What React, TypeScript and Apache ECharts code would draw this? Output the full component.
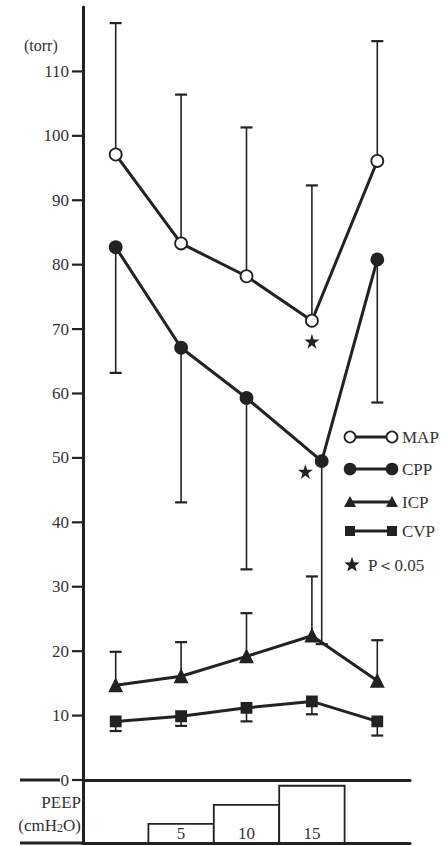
import React, { useEffect, useRef } from 'react';
import * as echarts from 'echarts';

// ---- data ----
const xPos = [1, 2, 3, 4, 5];
const cppX = [1, 2, 3, 4.15, 5];
const mapMean = [97.1, 83.3, 78.2, 71.3, 96.1];
const mapUpper = [117.5, 106.4, 101.3, 92.3, 114.7];
const cppMean = [82.7, 67.1, 59.3, 49.5, 80.8];
const cppLower = [63.2, 43.1, 32.7, 21.1, 58.6];
const icpMean = [14.7, 16.1, 19.2, 22.4, 15.4];
const icpUpper = [19.9, 21.4, 25.9, 31.6, 21.7];
const cvpMean = [9.1, 9.9, 11.2, 12.2, 9.1];
const cvpLower = [7.6, 8.4, 9.1, 10.2, 6.9];
const starPoints = [
  [4, 68.1],
  [3.9, 47.9],
];
const yTicks = [0, 10, 20, 30, 40, 50, 60, 70, 80, 90, 100, 110];
const peepX = [2, 3, 4];
const peepValues = [5, 10, 15];
const legendNames = ['MAP', 'CPP', 'ICP', 'CVP'];
const sigLabel = 'P＜0.05';

const INK = '#222';
const TXT = '#333';
const FAMILY = "'Liberation Serif', serif";
const STAR = 'path://M50,0 L61,35 L98,35 L68,57 L79,91 L50,70 L21,91 L32,57 L2,35 L39,35 Z';

// layout
const W = 448;
const H = 846;
const G_LEFT = 83;
const G_RIGHT = 38;
const G_TOP = 7;
const G_BOTTOM = 66;
const P_BOTTOM = 3;
const AXIS_Y0 = H - G_BOTTOM;
const PANEL_Y0 = H - P_BOTTOM;

function starPolygon(cx: number, cy: number, r: number) {
  const pts: number[][] = [];
  for (let i = 0; i < 10; i++) {
    const rr = i % 2 === 0 ? r : r * 0.42;
    const a = -Math.PI / 2 + (i * Math.PI) / 5;
    pts.push([cx + rr * Math.cos(a), cy + rr * Math.sin(a)]);
  }
  return pts;
}

function txt(text: string, x: number, y: number, size: number, align = 'left') {
  return {
    type: 'text',
    style: { text, x, y, align, verticalAlign: 'middle', fontFamily: FAMILY, fontSize: size, fill: TXT },
  };
}

function errorBars(name: string, xs: number[], means: number[], ends: number[]) {
  return {
    type: 'custom',
    name,
    z: 1,
    silent: true,
    xAxisIndex: 0,
    yAxisIndex: 0,
    data: xs.map((x, i) => [x, means[i], ends[i]]),
    encode: { x: 0, y: [1, 2] },
    renderItem: (params: any, api: any) => {
      const x = api.value(0);
      const m = api.value(1);
      const e = api.value(2);
      const p1 = api.coord([x, m]);
      const p2 = api.coord([x, e]);
      return {
        type: 'group',
        children: [
          { type: 'line', shape: { x1: p1[0], y1: p1[1], x2: p2[0], y2: p2[1] }, style: { stroke: INK, lineWidth: 1.6 } },
          { type: 'line', shape: { x1: p2[0] - 6, y1: p2[1], x2: p2[0] + 6, y2: p2[1] }, style: { stroke: INK, lineWidth: 2.2 } },
        ],
      };
    },
  };
}

function lineSeries(name: string, xs: number[], ys: number[], symbol: string, size: number, fill: string) {
  return {
    type: 'line',
    name,
    z: 3,
    xAxisIndex: 0,
    yAxisIndex: 0,
    data: xs.map((x, i) => [x, ys[i]]),
    symbol,
    symbolSize: size,
    showAllSymbol: true,
    itemStyle: { color: fill, borderColor: INK, borderWidth: 1.8, opacity: 1 },
    lineStyle: { color: INK, width: 3 },
    silent: true,
  };
}

export default function App() {
  const ref = useRef<HTMLDivElement>(null);
  useEffect(() => {
    if (!ref.current) return;
    const chart = echarts.init(ref.current, undefined, { renderer: 'svg' });

    const lx = 350;
    const ly = 437;
    const rowGap = [0, 32, 65, 94, 128];
    const markers: any[] = [
      (cx: number, cy: number) => ({ type: 'circle', shape: { cx, cy, r: 5.5 }, style: { fill: '#fff', stroke: INK, lineWidth: 1.8 } }),
      (cx: number, cy: number) => ({ type: 'circle', shape: { cx, cy, r: 5.5 }, style: { fill: INK, stroke: INK, lineWidth: 1.5 } }),
      (cx: number, cy: number) => ({ type: 'polygon', shape: { points: [[cx - 6, cy + 5], [cx + 6, cy + 5], [cx, cy - 6]] }, style: { fill: INK } }),
      (cx: number, cy: number) => ({ type: 'rect', shape: { x: cx - 5, y: cy - 5, width: 10, height: 10 }, style: { fill: INK } }),
    ];
    const legendEls: any[] = [];
    legendNames.forEach((n, i) => {
      const y = ly + rowGap[i];
      legendEls.push({ type: 'line', shape: { x1: lx, y1: y, x2: lx + 42, y2: y }, style: { stroke: INK, lineWidth: 3 } });
      legendEls.push(markers[i](lx, y));
      legendEls.push(markers[i](lx + 42, y));
      legendEls.push(txt(n, lx + 52, y, 17));
    });
    const sy = ly + rowGap[4];
    legendEls.push({ type: 'polygon', shape: { points: starPolygon(lx + 2, sy, 8) }, style: { fill: INK } });
    legendEls.push(txt(sigLabel, lx + 18, sy, 17));

    chart.setOption({
      animation: false,
      grid: [
        { left: G_LEFT, right: G_RIGHT, top: G_TOP, bottom: G_BOTTOM },
        { left: G_LEFT, right: G_RIGHT, top: AXIS_Y0, bottom: P_BOTTOM },
      ],
      xAxis: [
        {
          type: 'value', gridIndex: 0, min: 0.5, max: 5.5,
          axisLine: { show: true, onZero: false, lineStyle: { color: INK, width: 3 } },
          axisTick: { show: false }, axisLabel: { show: false }, splitLine: { show: false },
        },
        {
          type: 'value', gridIndex: 1, min: 0.5, max: 5.5,
          axisLine: { show: true, onZero: false, lineStyle: { color: INK, width: 3 } },
          axisTick: { show: false }, axisLabel: { show: false }, splitLine: { show: false },
        },
      ],
      yAxis: [
        {
          type: 'value', gridIndex: 0, min: 0, max: 120, interval: 10,
          axisLine: { show: true, lineStyle: { color: INK, width: 3 } },
          axisTick: { show: false },
          splitLine: { show: false },
          axisLabel: { show: false },
        },
        {
          type: 'value', gridIndex: 1, min: 0, max: 16.5,
          axisLine: { show: true, lineStyle: { color: INK, width: 3 } },
          axisTick: { show: false }, axisLabel: { show: false }, splitLine: { show: false },
        },
      ],
      series: [
        {
          type: 'custom', name: 'y ticks', xAxisIndex: 0, yAxisIndex: 0, silent: true, clip: false, z: 5,
          data: yTicks.map((v) => [0.5, v]),
          encode: { x: 0, y: 1 },
          renderItem: (params: any, api: any) => {
            const p = api.coord([api.value(0), api.value(1)]);
            return {
              type: 'group',
              children: [
                { type: 'line', shape: { x1: p[0] - 11, y1: p[1], x2: p[0] - 1, y2: p[1] }, style: { stroke: INK, lineWidth: 2.2 } },
                { type: 'text', style: { text: String(api.value(1)), x: p[0] - 14, y: p[1], align: 'right', verticalAlign: 'middle', fontFamily: FAMILY, fontSize: 17, fill: TXT } },
              ],
            };
          },
        },
        errorBars('MAP SD', xPos, mapMean, mapUpper),
        errorBars('CPP SD', cppX, cppMean, cppLower),
        errorBars('ICP SD', xPos, icpMean, icpUpper),
        errorBars('CVP SD', xPos, cvpMean, cvpLower),
        lineSeries('MAP', xPos, mapMean, 'circle', 12, '#fff'),
        lineSeries('CPP', cppX, cppMean, 'circle', 12, INK),
        lineSeries('ICP', xPos, icpMean, 'triangle', 12, INK),
        lineSeries('CVP', xPos, cvpMean, 'rect', 10, INK),
        {
          type: 'scatter', name: 'P<0.05', xAxisIndex: 0, yAxisIndex: 0, z: 4,
          data: starPoints, symbol: STAR, symbolSize: 15, itemStyle: { color: INK, opacity: 1 }, silent: true,
        },
        {
          type: 'custom', name: 'PEEP', xAxisIndex: 1, yAxisIndex: 1, silent: true,
          data: peepX.map((x, i) => [x, peepValues[i]]),
          encode: { x: 0, y: 1 },
          renderItem: (params: any, api: any) => {
            const x = api.value(0);
            const v = api.value(1);
            const a = api.coord([x - 0.5, v]);
            const b = api.coord([x + 0.5, 0]);
            return {
              type: 'group',
              children: [
                { type: 'rect', shape: { x: a[0], y: a[1], width: b[0] - a[0], height: b[1] - a[1] }, style: { fill: '#fff', stroke: INK, lineWidth: 1.8 } },
                { type: 'text', style: { text: String(v), x: (a[0] + b[0]) / 2, y: b[1] - 1, align: 'center', verticalAlign: 'bottom', fontFamily: FAMILY, fontSize: 17, fill: TXT } },
              ],
            };
          },
        },
      ],
      graphic: [
        { type: 'line', shape: { x1: 20, y1: AXIS_Y0, x2: G_LEFT - 23, y2: AXIS_Y0 }, style: { stroke: INK, lineWidth: 3 } },
        { type: 'line', shape: { x1: 20, y1: PANEL_Y0, x2: G_LEFT, y2: PANEL_Y0 }, style: { stroke: INK, lineWidth: 3 } },
        txt('(torr)', 24, G_TOP + 38, 16),
        txt('PEEP', G_LEFT - 2, AXIS_Y0 + 22, 17, 'right'),
        {
          type: 'text',
          style: {
            text: '{a|(cmH}{s|2}{a|O)}',
            x: G_LEFT - 2, y: AXIS_Y0 + 45, align: 'right', verticalAlign: 'middle',
            rich: {
              a: { fontFamily: FAMILY, fontSize: 17, fill: TXT, verticalAlign: 'middle' },
              s: { fontFamily: FAMILY, fontSize: 12, fill: TXT, verticalAlign: 'bottom', padding: [6, 0, 0, 0] },
            },
          },
        },
        ...legendEls,
      ],
    });

    return () => chart.dispose();
  }, []);
  return <div ref={ref} style={{ position: 'absolute', left: 0, top: 0, width: W, height: H }} />;
}
